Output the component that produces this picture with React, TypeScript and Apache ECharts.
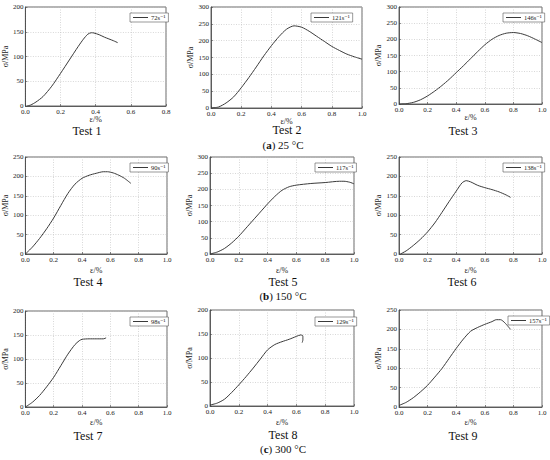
import React, { useEffect, useRef } from "react";
import * as echarts from "echarts";

// Test data: [strain %, stress MPa]
const test1 = [[0.01,0],[0.03,2],[0.06,8],[0.1,19],[0.15,40],[0.2,66],[0.25,93],[0.3,120],[0.33,135],[0.355,145],[0.375,148],[0.39,147.5],[0.42,144],[0.45,139],[0.5,132],[0.525,128]];
const test2 = [[0,0],[0.05,3],[0.1,15],[0.15,33],[0.2,60],[0.25,90],[0.3,122],[0.35,155],[0.4,185],[0.45,212],[0.5,234],[0.55,244],[0.6,240],[0.65,228],[0.7,213],[0.75,198],[0.8,183],[0.85,171],[0.9,160],[0.95,152],[1.0,145]];
const test3 = [[0,0],[0.05,1],[0.1,5],[0.15,13],[0.2,25],[0.25,40],[0.3,57],[0.35,76],[0.4,97],[0.45,118],[0.5,140],[0.55,162],[0.6,183],[0.65,200],[0.7,212],[0.75,219],[0.8,221],[0.85,218],[0.9,211],[0.95,201],[1.0,190]];
const test4 = [[0,0],[0.05,18],[0.1,40],[0.15,65],[0.2,93],[0.25,125],[0.3,156],[0.35,180],[0.4,195],[0.45,203],[0.5,208],[0.55,212],[0.58,212],[0.62,209],[0.66,203],[0.7,195],[0.745,182]];
const test5 = [[0,0],[0.05,6],[0.1,17],[0.15,34],[0.2,55],[0.25,80],[0.3,105],[0.35,130],[0.4,155],[0.45,178],[0.5,197],[0.55,208],[0.6,213],[0.7,218],[0.8,221],[0.9,225],[0.93,225],[0.97,222],[1.0,217]];
const test6 = [[0.01,0],[0.05,8],[0.1,22],[0.15,38],[0.2,57],[0.25,80],[0.3,107],[0.35,135],[0.4,162],[0.44,183],[0.47,189],[0.5,186],[0.55,177],[0.6,171],[0.65,166],[0.7,160],[0.75,152],[0.78,146]];
const test7 = [[0,0],[0.05,10],[0.1,24],[0.15,42],[0.2,62],[0.25,86],[0.3,110],[0.35,130],[0.38,138],[0.4,141],[0.45,142],[0.5,142],[0.55,142],[0.57,144]];
const test8 = [[0,2],[0.05,6],[0.1,14],[0.15,28],[0.2,44],[0.25,61],[0.3,79],[0.35,98],[0.4,117],[0.45,128],[0.5,134],[0.55,139],[0.6,145],[0.63,148],[0.645,146],[0.645,138],[0.64,132]];
const test9 = [[0,4],[0.05,12],[0.1,24],[0.15,39],[0.2,56],[0.25,77],[0.3,99],[0.35,125],[0.4,151],[0.45,175],[0.5,195],[0.55,205],[0.6,213],[0.65,220],[0.68,225],[0.71,225],[0.74,217],[0.78,200]];

const seriesData = [test1, test2, test3, test4, test5, test6, test7, test8, test9];
const rateLabels = ["72s⁻¹", "121s⁻¹", "146s⁻¹", "90s⁻¹", "117s⁻¹", "138s⁻¹", "98s⁻¹", "129s⁻¹", "157s⁻¹"];
const testLabels = ["Test 1", "Test 2", "Test 3", "Test 4", "Test 5", "Test 6", "Test 7", "Test 8", "Test 9"];
const xMaxes = [0.8, 1.0, 1.0, 1.0, 1.0, 1.0, 1.0, 1.0, 1.0];
const yMaxes = [200, 300, 300, 250, 300, 250, 200, 200, 250];
const groupLabels = ["a", "b", "c"];
const groupTemps = ["25 °C", "150 °C", "300 °C"];

// layout
const grids = [
  { left: 24, top: 7, width: 142, height: 99 },
  { left: 211, top: 7, width: 151, height: 101 },
  { left: 399, top: 7, width: 143, height: 97 },
  { left: 23, top: 157, width: 144, height: 97 },
  { left: 210, top: 157, width: 144, height: 97 },
  { left: 399, top: 157, width: 143, height: 97 },
  { left: 22, top: 311, width: 145, height: 96 },
  { left: 210, top: 310, width: 144, height: 96 },
  { left: 399, top: 310, width: 143, height: 97 },
];
const xNameGaps = [7, 5, 9, 12, 12, 12, 11, 12, 11];
const legendPos = [
  { left: 130, top: 13 }, { left: 311, top: 13 }, { left: 503, top: 13 },
  { left: 130, top: 163 }, { left: 315, top: 163 }, { left: 503, top: 163 },
  { left: 130, top: 317 }, { left: 315, top: 317 }, { left: 508, top: 316 },
];
const testPos = [
  { x: 87, y: 125 }, { x: 287, y: 124 }, { x: 463, y: 125 },
  { x: 88, y: 276 }, { x: 283, y: 276 }, { x: 462, y: 276 },
  { x: 88, y: 430 }, { x: 283, y: 429 }, { x: 463, y: 430 },
];
const groupPos = [
  { x: 283, y: 139 }, { x: 283, y: 290 }, { x: 283, y: 443 },
];

const SERIF = "'Liberation Serif', 'DejaVu Serif', serif";
const LINE = "#3a3a3a";

export default function App() {
  const ref = useRef<HTMLDivElement>(null);
  useEffect(() => {
    if (!ref.current) return;
    const chart = echarts.init(ref.current, undefined, { renderer: "svg" });
    const option: any = {
      animation: false,
      backgroundColor: "#ffffff",
      grid: grids.map((g) => ({
        ...g,
        show: true,
        borderColor: "#444",
        borderWidth: 0.8,
        backgroundColor: "#fff",
        containLabel: false,
      })),
      xAxis: grids.map((_, i) => ({
        type: "value",
        gridIndex: i,
        min: 0,
        max: xMaxes[i],
        interval: 0.2,
        name: "ε/%",
        nameLocation: "middle",
        nameGap: xNameGaps[i],
        nameTextStyle: { fontFamily: SERIF, fontSize: 8, color: "#222", fontStyle: "normal" },
        axisLine: { show: true, lineStyle: { color: "#444", width: 0.8 } },
        axisTick: { show: true, inside: true, length: 2, lineStyle: { color: "#444", width: 0.6 } },
        axisLabel: {
          fontFamily: SERIF, fontSize: 7, color: "#222", margin: 2,
          formatter: (v: number) => v.toFixed(1),
        },
        splitLine: { show: true, lineStyle: { type: [1, 1.5], color: "#bdbdbd", width: 0.6 } },
      })),
      yAxis: grids.map((_, i) => ({
        type: "value",
        gridIndex: i,
        min: 0,
        max: yMaxes[i],
        interval: 50,
        name: "σ/MPa",
        nameLocation: "middle",
        nameRotate: 90,
        nameGap: 15,
        nameTextStyle: { fontFamily: SERIF, fontSize: 8, color: "#222" },
        axisLine: { show: true, lineStyle: { color: "#444", width: 0.8 } },
        axisTick: { show: true, inside: true, length: 2, lineStyle: { color: "#444", width: 0.6 } },
        axisLabel: { fontFamily: SERIF, fontSize: 7, color: "#222", margin: 2 },
        splitLine: { show: true, lineStyle: { type: [1, 1.5], color: "#bdbdbd", width: 0.6 } },
      })),
      legend: grids.map((_, i) => ({
        data: [rateLabels[i]],
        left: legendPos[i].left,
        top: legendPos[i].top,
        orient: "horizontal",
        icon: "rect",
        padding: [1, 3, 1, 3],
        itemGap: 2,
        itemWidth: 15,
        itemHeight: 1,
        borderColor: "#555",
        borderWidth: 0.6,
        borderRadius: 0,
        backgroundColor: "#fff",
        selectedMode: false,
        textStyle: { fontFamily: SERIF, fontSize: 6.5, color: "#222", padding: [0, 0, 0, -2] },
      })),
      series: seriesData.map((d, i) => ({
        type: "line",
        name: rateLabels[i],
        xAxisIndex: i,
        yAxisIndex: i,
        data: d,
        symbol: "none",
        showSymbol: false,
        smooth: 0.25,
        color: LINE,
        lineStyle: { color: LINE, width: 1 },
      })),
      title: [
        ...testPos.map((p, i) => ({
          text: testLabels[i],
          left: p.x,
          top: p.y,
          textAlign: "center",
          padding: 0,
          textStyle: { fontFamily: SERIF, fontSize: 12, fontWeight: "normal", color: "#111" },
        })),
        ...groupPos.map((p, i) => ({
          text: "({b|" + groupLabels[i] + "}) " + groupTemps[i],
          left: p.x,
          top: p.y,
          textAlign: "center",
          padding: 0,
          textStyle: {
            fontFamily: SERIF, fontSize: 11, fontWeight: "normal", color: "#111",
            rich: { b: { fontFamily: SERIF, fontSize: 11, fontWeight: "bold", color: "#111" } },
          },
        })),
      ],
    };
    chart.setOption(option);
    return () => chart.dispose();
  }, []);
  return (
    <div
      ref={ref}
      style={{ position: "absolute", left: 0, top: 0, width: 550, height: 460, background: "#fff" }}
    />
  );
}
